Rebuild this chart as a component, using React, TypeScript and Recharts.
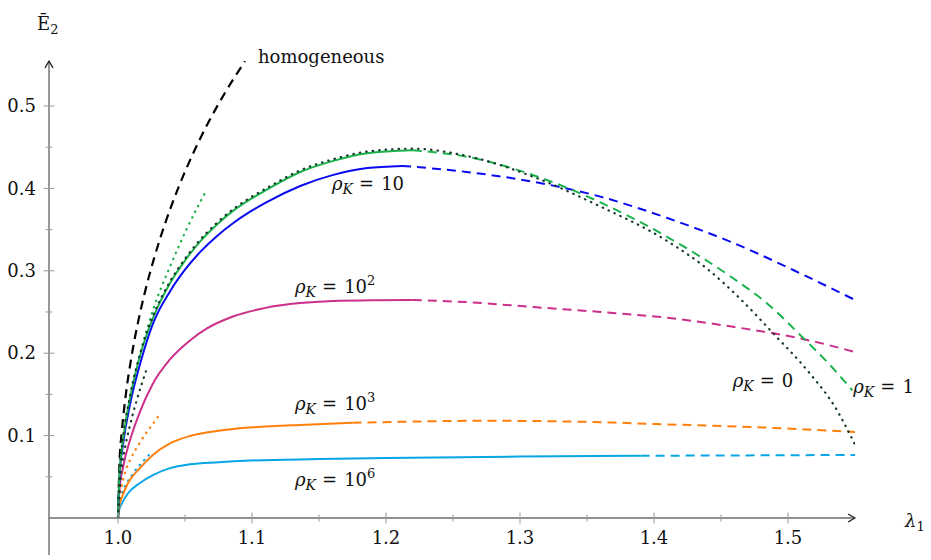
import React from 'react';
import { LineChart, Line, XAxis, YAxis, ReferenceLine, ReferenceDot } from 'recharts';

// axis ranges
const X_MIN = 0.9485;
const X_MAX = 1.55;
const Y_MIN_AXIS = -0.045;
const Y_MAX = 0.5546;

const xTicks = [1.0, 1.05, 1.1, 1.15, 1.2, 1.25, 1.3, 1.35, 1.4, 1.45, 1.5];
const yTicks = [0.05, 0.1, 0.15, 0.2, 0.25, 0.3, 0.35, 0.4, 0.45, 0.5];

// homogeneous
const homX = [1.0, 1.001, 1.003, 1.006, 1.01, 1.015, 1.02, 1.027, 1.035, 1.045, 1.055, 1.066, 1.08, 1.0948];
const homY = [0, 0.0622, 0.1076, 0.1518, 0.1952, 0.238, 0.2735, 0.3157, 0.3568, 0.4007, 0.4388, 0.4756, 0.5165, 0.5544];

// rho_K = 1 (green)
const k1SolidX = [1.0, 1.001, 1.004, 1.009, 1.0175, 1.026, 1.0388, 1.05, 1.0612, 1.0735, 1.0858, 1.098, 1.111, 1.136, 1.16, 1.186, 1.22];
const k1SolidY = [0, 0.049, 0.098, 0.146, 0.203, 0.2425, 0.285, 0.3125, 0.3355, 0.3557, 0.3727, 0.3861, 0.3984, 0.4199, 0.4331, 0.4427, 0.4462];
const k1DashX = [1.22, 1.26, 1.31, 1.36, 1.41, 1.459, 1.484, 1.511, 1.53, 1.548];
const k1DashY = [0.4462, 0.4385, 0.416, 0.383, 0.341, 0.291, 0.261, 0.219, 0.188, 0.155];
const k1DotX = [1.0, 1.001, 1.004, 1.009, 1.0179, 1.026, 1.0388, 1.0515, 1.0664];
const k1DotY = [0, 0.049, 0.098, 0.147, 0.2075, 0.252, 0.305, 0.3515, 0.399];

// rho_K = 0 (dark, dotted)
const k0X = [1.0, 1.001, 1.004, 1.009, 1.0175, 1.026, 1.0388, 1.05, 1.0612, 1.0735, 1.0858, 1.098, 1.111, 1.136, 1.16, 1.186, 1.22, 1.26, 1.31, 1.36, 1.41, 1.44, 1.465, 1.489, 1.516, 1.535, 1.55];
const k0Y = [0, 0.05, 0.1, 0.148, 0.205, 0.2445, 0.287, 0.3145, 0.3375, 0.3577, 0.3747, 0.3881, 0.4004, 0.4219, 0.4351, 0.4447, 0.4482, 0.4395, 0.414, 0.378, 0.336, 0.302, 0.265, 0.224, 0.176, 0.135, 0.089];
const k0DotX = [1.0, 1.002, 1.005, 1.009, 1.014, 1.018, 1.0214];
const k0DotY = [0, 0.05, 0.083, 0.113, 0.143, 0.164, 0.181];

// rho_K = 10 (blue)
const k10SolidX = [1.0, 1.001, 1.004, 1.009, 1.0179, 1.026, 1.0388, 1.05, 1.0612, 1.0735, 1.0858, 1.098, 1.111, 1.136, 1.16, 1.186, 1.212];
const k10SolidY = [0, 0.046, 0.092, 0.138, 0.195, 0.2355, 0.275, 0.3013, 0.3226, 0.3417, 0.3577, 0.3711, 0.3834, 0.4029, 0.4161, 0.4247, 0.4273];
const k10DashX = [1.212, 1.26, 1.31, 1.36, 1.41, 1.459, 1.509, 1.55];
const k10DashY = [0.4273, 0.42, 0.408, 0.39, 0.364, 0.334, 0.297, 0.2646];

// rho_K = 10^2 (magenta)
const k100SolidX = [1.0, 1.001, 1.0037, 1.009, 1.0164, 1.026, 1.0388, 1.0537, 1.0664, 1.0858, 1.111, 1.136, 1.16, 1.19, 1.22];
const k100SolidY = [0, 0.032, 0.061, 0.0947, 0.129, 0.163, 0.1925, 0.2155, 0.23, 0.2445, 0.2553, 0.2608, 0.2634, 0.2644, 0.2646];
const k100DashX = [1.22, 1.26, 1.31, 1.36, 1.41, 1.459, 1.509, 1.55];
const k100DashY = [0.2646, 0.262, 0.256, 0.25, 0.243, 0.232, 0.218, 0.2015];

// rho_K = 10^3 (orange)
const k1eSolidX = [1.0, 1.001, 1.003, 1.0075, 1.0164, 1.026, 1.0388, 1.0537, 1.075, 1.0985, 1.14, 1.175];
const k1eSolidY = [0, 0.015, 0.0255, 0.0425, 0.0607, 0.0765, 0.0905, 0.0995, 0.1058, 0.1098, 0.1133, 0.1155];
const k1eDashX = [1.175, 1.22, 1.27, 1.32, 1.37, 1.402, 1.4716, 1.55];
const k1eDashY = [0.1155, 0.117, 0.118, 0.1175, 0.1158, 0.114, 0.1105, 0.1044];
const k1eDotX = [1.0, 1.001, 1.003, 1.0052, 1.0095, 1.015, 1.0214, 1.0281, 1.032];
const k1eDotY = [0, 0.024, 0.041, 0.055, 0.072, 0.088, 0.104, 0.119, 0.1285];

// rho_K = 10^6 (cyan)
const k1mSolidX = [1.0, 1.001, 1.003, 1.0075, 1.0164, 1.026, 1.0388, 1.0537, 1.075, 1.0985, 1.15, 1.2, 1.3, 1.39];
const k1mSolidY = [0, 0.0105, 0.018, 0.03, 0.0425, 0.052, 0.0605, 0.0652, 0.0677, 0.0697, 0.0715, 0.0728, 0.0745, 0.0755];
const k1mDashX = [1.39, 1.47, 1.55];
const k1mDashY = [0.0755, 0.076, 0.0765];
const k1mDotX = [1.0, 1.001, 1.0037, 1.0067, 1.0104, 1.0142, 1.018, 1.0216, 1.0254];
const k1mDotY = [0, 0.017, 0.033, 0.043, 0.052, 0.0605, 0.0675, 0.074, 0.08];

// curve labels
const labelX = [1.1597, 1.1321, 1.1321, 1.1321, 1.4587, 1.5487];
const labelY = [0.398, 0.273, 0.131, 0.0388, 0.1586, 0.1513];
const labelBase = ['10', '10', '10', '10', '0', '1'];
const labelSup = ['', '2', '3', '6', '', ''];

const COLORS = {
  hom: '#000000',
  k0: '#17392e',
  k1: '#1bb24b',
  k10: '#0a0af0',
  k100: '#cc2f8b',
  k1e3: '#ff7f0a',
  k1e6: '#08a6e6',
};

const FONT = '"DejaVu Serif", "Liberation Serif", "Times New Roman", Tinos, "Noto Serif", serif';
const DASH = '9 6';
const DOT = '0.5 6';

const pts = (xs: number[], ys: number[]) => xs.map((x, i) => ({ x, y: ys[i] }));

const XTick = (props: any) => {
  const { x, y, payload } = props;
  const v = payload.value;
  const major = Math.abs(v * 10 - Math.round(v * 10)) < 1e-6;
  const r = major ? 5.5 : 3.5;
  return (
    <g>
      <line x1={x} x2={x} y1={y - r} y2={y + r} stroke="#9a9a9a" strokeWidth={1} />
      {major && (
        <text x={x} y={y + 20} dy="0.35em" textAnchor="middle" style={{ fontFamily: FONT }} fontSize={18} fill="#111">
          {v.toFixed(1)}
        </text>
      )}
    </g>
  );
};

const YTick = (props: any) => {
  const { x, y, payload } = props;
  const v = payload.value;
  const major = Math.abs(v * 10 - Math.round(v * 10)) < 1e-6;
  const r = major ? 5.5 : 3.5;
  return (
    <g>
      <line x1={x - r} x2={x + r} y1={y} y2={y} stroke="#9a9a9a" strokeWidth={1} />
      {major && (
        <text x={x - 13} y={y} dy="0.35em" textAnchor="end" style={{ fontFamily: FONT }} fontSize={18} fill="#111">
          {v.toFixed(1)}
        </text>
      )}
    </g>
  );
};

const arrowAxis = (props: any) => {
  const { x1, y1, x2, y2 } = props;
  const horiz = Math.abs(y2 - y1) < Math.abs(x2 - x1);
  const head = horiz
    ? `M${x2 - 7},${y2 - 4} L${x2},${y2} L${x2 - 7},${y2 + 4}`
    : `M${x2 - 4},${y2 + 7} L${x2},${y2} L${x2 + 4},${y2 + 7}`;
  return (
    <g>
      <line x1={x1} y1={y1} x2={x2} y2={y2} stroke="#6b6b6b" strokeWidth={1.4} />
      <path d={head} stroke="#222" strokeWidth={1.4} fill="none" strokeLinejoin="round" />
    </g>
  );
};

const rhoLabel = (base: string, sup: string) => (props: any) => (
  <text x={props.cx} y={props.cy} style={{ fontFamily: FONT }} fontSize={18} fill="#111">
    <tspan fontStyle="italic">ρ</tspan>
    <tspan fontStyle="italic" fontSize={14} dy={4}>K</tspan>
    <tspan dy={-4} dx={6}>=</tspan>
    <tspan dx={7}>{base}</tspan>
    {sup && <tspan fontSize={13} dy={-8}>{sup}</tspan>}
  </text>
);

const plainLabel = (txt: string) => (props: any) => (
  <text x={props.cx} y={props.cy} style={{ fontFamily: FONT }} fontSize={18} fill="#111">{txt}</text>
);

const eLabel = (props: any) => (
  <text x={props.cx} y={props.cy} style={{ fontFamily: FONT }} fontSize={18} fill="#111">
    <tspan>Ē</tspan>
    <tspan fontSize={13} dy={4}>2</tspan>
  </text>
);

const lambdaLabel = (props: any) => (
  <text x={props.cx} y={props.cy} style={{ fontFamily: FONT }} fontSize={18} fill="#111">
    <tspan fontStyle="italic">λ</tspan>
    <tspan fontSize={13} dy={4}>1</tspan>
  </text>
);

const seriesLine = (key: string, data: any[], color: string, style: 'solid' | 'dash' | 'dot', width = 2) => (
  <Line
    key={key}
    data={data}
    dataKey="y"
    type="monotone"
    stroke={color}
    strokeWidth={style === 'dot' ? 2.2 : width}
    strokeDasharray={style === 'dash' ? DASH : style === 'dot' ? DOT : undefined}
    strokeLinecap={style === 'dot' ? 'round' : 'butt'}
    dot={false}
    activeDot={false}
    isAnimationActive={false}
  />
);

export default function App() {
  return (
    <div style={{ position: 'absolute', left: 0, top: 0, background: '#fff' }}>
      <LineChart width={931} height={560} margin={{ top: 61, right: 76, left: 0, bottom: 0 }}>
        <XAxis
          type="number"
          dataKey="x"
          domain={[X_MIN, X_MAX]}
          ticks={xTicks}
          interval={0}
          allowDataOverflow
          axisLine={false}
          tickLine={false}
          tickSize={0}
          tickMargin={0}
          height={42}
          tick={<XTick />}
        />
        <YAxis
          type="number"
          domain={[0, Y_MAX]}
          ticks={yTicks}
          interval={0}
          allowDataOverflow
          axisLine={false}
          tickLine={false}
          tickSize={0}
          tickMargin={0}
          width={49}
          tick={<YTick />}
        />
        <ReferenceLine segment={[{ x: X_MIN, y: 0 }, { x: X_MAX, y: 0 }]} ifOverflow="visible" shape={arrowAxis} />
        <ReferenceLine segment={[{ x: X_MIN, y: Y_MIN_AXIS }, { x: X_MIN, y: Y_MAX }]} ifOverflow="visible" shape={arrowAxis} />

        {seriesLine('hom', pts(homX, homY), COLORS.hom, 'dash', 2.2)}
        {seriesLine('k1mS', pts(k1mSolidX, k1mSolidY), COLORS.k1e6, 'solid')}
        {seriesLine('k1mD', pts(k1mDashX, k1mDashY), COLORS.k1e6, 'dash')}
        {seriesLine('k1mO', pts(k1mDotX, k1mDotY), COLORS.k1e6, 'dot')}
        {seriesLine('k1eS', pts(k1eSolidX, k1eSolidY), COLORS.k1e3, 'solid')}
        {seriesLine('k1eD', pts(k1eDashX, k1eDashY), COLORS.k1e3, 'dash')}
        {seriesLine('k1eO', pts(k1eDotX, k1eDotY), COLORS.k1e3, 'dot')}
        {seriesLine('k100S', pts(k100SolidX, k100SolidY), COLORS.k100, 'solid')}
        {seriesLine('k100D', pts(k100DashX, k100DashY), COLORS.k100, 'dash')}
        {seriesLine('k10S', pts(k10SolidX, k10SolidY), COLORS.k10, 'solid')}
        {seriesLine('k10D', pts(k10DashX, k10DashY), COLORS.k10, 'dash')}
        {seriesLine('k1S', pts(k1SolidX, k1SolidY), COLORS.k1, 'solid')}
        {seriesLine('k1D', pts(k1DashX, k1DashY), COLORS.k1, 'dash')}
        {seriesLine('k1O', pts(k1DotX, k1DotY), COLORS.k1, 'dot')}
        {seriesLine('k0', pts(k0X, k0Y), COLORS.k0, 'dot')}
        {seriesLine('k0O', pts(k0DotX, k0DotY), COLORS.k0, 'dot')}

        {labelX.map((lx, i) => (
          <ReferenceDot
            key={`lab-${i}`}
            x={lx}
            y={labelY[i]}
            r={1}
            ifOverflow="visible"
            shape={rhoLabel(labelBase[i], labelSup[i])}
          />
        ))}
        <ReferenceDot x={1.1045} y={0.5522} r={1} ifOverflow="visible" shape={plainLabel('homogeneous')} />
        <ReferenceDot x={0.9396} y={0.592} r={1} ifOverflow="visible" shape={eLabel} />
        <ReferenceDot x={1.5873} y={-0.011} r={1} ifOverflow="visible" shape={lambdaLabel} />
      </LineChart>
    </div>
  );
}
